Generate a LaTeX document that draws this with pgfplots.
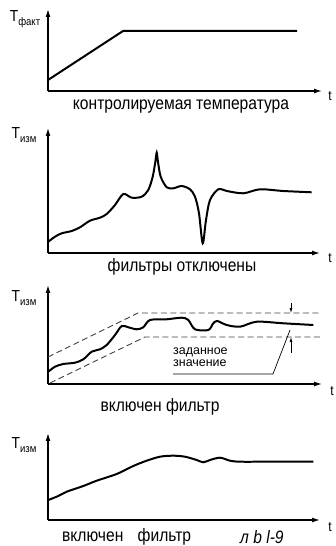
\documentclass[border=0pt]{standalone}
\usepackage{pgfplots}
\pgfplotsset{compat=1.18}
\usepackage{pgfplotstable}
\usetikzlibrary{arrows.meta}
\usepackage{fontspec}
\setmainfont{Liberation Sans}[FakeStretch=0.87]
\newfontfamily\plainfont{Liberation Sans}

\pgfplotstableread{
x y
48 80
123 31
297 31
}\curveA

\pgfplotstableread{
x y
48.3 241.7
55 236.7
61.7 233.3
71.7 231
80 227.3
90 220.7
100 217.7
106.7 214
115 205
123.3 194
131.7 197.7
141.7 196.7
148.3 190
152.7 176.7
155.3 162
156.7 152.7
158 162
160.7 176.7
166.7 187.3
173.3 188.3
181.7 186
190 189.3
195 196.7
199 213.3
202.7 243.3
206 220
210 200
218.3 189.3
226.7 191
243.3 193.3
260 189.3
283.3 191
311.7 192.3
}\curveB

\pgfplotstableread{
x y
48.3 371.7
55 366.7
63.3 364
75 362.7
83.3 359.3
91.7 351.7
100 349.3
106.7 345
115 335
121.7 326
128.3 327.3
136.7 329.3
143.3 327.3
150 320
166.7 319.3
181.7 317.7
188.3 320
195 329.3
208.3 330
213.3 323.3
217.3 321
226.7 325
240 326.7
256.7 321.7
283.3 323.3
313.3 325
}\curveC

\pgfplotstableread{
x y
48 357
138 313
320 313
}\upperC

\pgfplotstableread{
x y
50 383
145 337
320 337
}\lowerC

\pgfplotstableread{
x y
48.3 500
58.3 496
66.7 491.7
83.3 486
96.7 480.7
116.7 474
133.3 466
146.7 460.7
160 456.7
173.3 455.7
185 456.7
196.7 460
203.3 462.3
210 460
220 457.7
230 460.7
240 461.7
266.7 461.7
313.3 461.7
}\curveD

\tikzset{axarrow/.style={line width=1.3pt, -{Latex[length=8pt,width=5pt]}}}
\pgfplotsset{panel/.style={scale only axis, width=336bp, xmin=0, xmax=336,
  hide axis, clip=false, anchor=south west}}
\newcommand{\Tlab}[1]{\fontsize{16}{16}\selectfont Т\raisebox{-0.4ex}{\fontsize{11}{11}\selectfont #1}}
\newcommand{\capfont}{\fontsize{18}{18}\selectfont}
\newcommand{\tfont}{\fontsize{14}{14}\selectfont}

\begin{document}
\begin{tikzpicture}
% Panel 1
\begin{axis}[panel, height=120bp, ymin=426, ymax=546, at={(0bp,426bp)}]
\addplot[axarrow] coordinates {(48,546-91) (48,546-9)};
\addplot[axarrow] coordinates {(48,546-91) (322,546-91)};
\addplot[line width=2pt, line join=round] table[x=x, y expr=546-\thisrow{y}] {\curveA};
\node[inner sep=0pt] at (axis cs:25,546-19) {\Tlab{факт}};
\node[inner sep=0pt] at (axis cs:330,546-96) {\tfont t};
\node[inner sep=0pt] at (axis cs:181,546-107) {\capfont контролируемая температура};
\end{axis}
% Panel 2
\begin{axis}[panel, height=155bp, ymin=271, ymax=426, at={(0bp,271bp)}]
\addplot[axarrow] coordinates {(48,546-253) (48,546-128)};
\addplot[axarrow] coordinates {(48,546-253) (320,546-253)};
\addplot[line width=2pt, smooth, tension=0.5] table[x=x, y expr=546-\thisrow{y}] {\curveB};
\node[inner sep=0pt] at (axis cs:24,546-135) {\Tlab{изм}};
\node[inner sep=0pt] at (axis cs:330,546-258) {\tfont t};
\node[inner sep=0pt] at (axis cs:182,546-267) {\capfont фильтры отключены};
\end{axis}
% Panel 3
\begin{axis}[panel, height=140bp, ymin=131, ymax=271, at={(0bp,131bp)}]
\addplot[axarrow] coordinates {(48,546-384) (48,546-285)};
\addplot[axarrow] coordinates {(48,546-384) (322,546-384)};
\addplot[line width=0.9pt, dash pattern=on 6pt off 3.5pt, black!75] table[x=x, y expr=546-\thisrow{y}] {\upperC};
\addplot[line width=0.9pt, dash pattern=on 6pt off 3.5pt, black!75] table[x=x, y expr=546-\thisrow{y}] {\lowerC};
\addplot[line width=2pt, smooth, tension=0.5] table[x=x, y expr=546-\thisrow{y}] {\curveC};
\addplot[line width=0.7pt] coordinates {(173,546-374) (273,546-374) (290,546-330)};
\addplot[line width=0.7pt, -{Latex[length=5pt,width=3pt]}] coordinates {(291,546-303) (291,546-313)};
\addplot[line width=0.7pt, -{Latex[length=5pt,width=3pt]}] coordinates {(291,546-353) (291,546-337)};
\node[inner sep=0pt] at (axis cs:24,546-298) {\Tlab{изм}};
\node[inner sep=0pt] at (axis cs:332,546-391) {\tfont t};
\node[anchor=west, align=left, inner sep=0pt, font=\plainfont\fontsize{12.5}{12}\selectfont] at (axis cs:173,546-357) {заданное\\значение};
\node[inner sep=0pt] at (axis cs:160,546-407) {\capfont включен фильтр};
\end{axis}
% Panel 4
\begin{axis}[panel, height=131bp, ymin=0, ymax=131, at={(0bp,0bp)}]
\addplot[axarrow] coordinates {(48,546-520) (48,546-433)};
\addplot[axarrow] coordinates {(48,546-520) (320,546-520)};
\addplot[line width=2pt, smooth, tension=0.5] table[x=x, y expr=546-\thisrow{y}] {\curveD};
\node[inner sep=0pt] at (axis cs:24,546-445) {\Tlab{изм}};
\node[inner sep=0pt] at (axis cs:330,546-527) {\tfont t};
\node[anchor=west, inner sep=0pt] at (axis cs:62,546-537) {\capfont включен\hspace{0.8em}фильтр};
\node[anchor=west, inner sep=0pt] at (axis cs:240,546-537) {\capfont\itshape л b l-9};
\end{axis}
\pgfresetboundingbox
\useasboundingbox (0bp,0bp) rectangle (336bp,546bp);
\end{tikzpicture}
\end{document}
